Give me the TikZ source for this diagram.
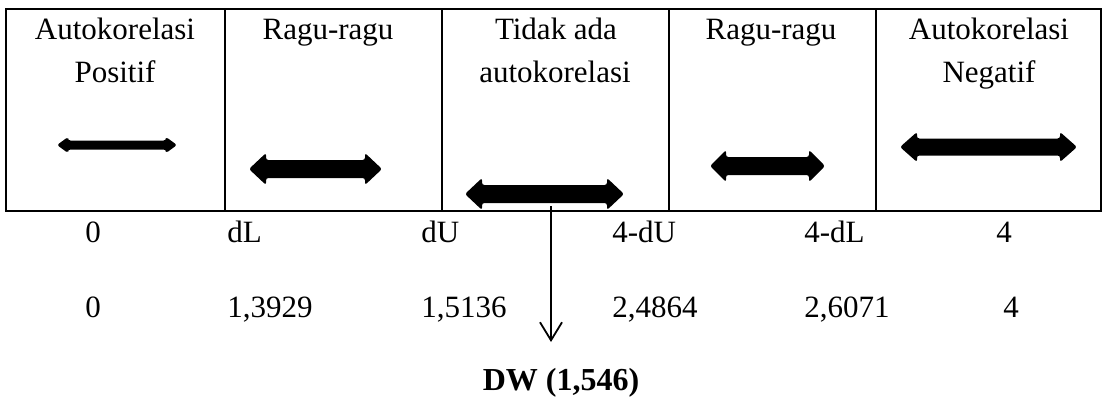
\documentclass[tikz,border=0pt]{standalone}
\usepackage{fontspec}
\setmainfont{Liberation Serif}
\usetikzlibrary{arrows.meta}

\tikzset{
  cell/.style={draw, line width=1.2pt},
  lbl/.style={anchor=base, inner sep=0pt, font=\fontsize{15.5}{18}\selectfont},
  val/.style={anchor=base west, inner sep=0pt, font=\fontsize{15.5}{18}\selectfont},
  dwlbl/.style={anchor=base, inner sep=0pt, font=\fontsize{16}{19}\selectfont\bfseries},
  fat/.style={fill=black, rounded corners=1.2pt},
  dwarrow/.style={line width=0.9pt, -{Straight Barb[length=9pt,width=11pt,line width=0.9pt]}},
}

% x1, x2, y, shaft half-thickness, head half-height, head length
\newcommand{\FatDbl}[6]{%
  \fill[fat] (#1,#3) -- (#1+#6,#3-#5) -- (#1+#6,#3-#4) -- (#2-#6,#3-#4) -- (#2-#6,#3-#5)
    -- (#2,#3) -- (#2-#6,#3+#5) -- (#2-#6,#3+#4) -- (#1+#6,#3+#4) -- (#1+#6,#3+#5) -- cycle;}

\begin{document}
\begin{tikzpicture}[x=0.5pt,y=-0.5pt]
\useasboundingbox (0,0) rectangle (1107,398);

% table frame
\draw[cell] (6,9) rectangle (1101,211);
\draw[cell] (225,9) -- (225,211);
\draw[cell] (442,9) -- (442,211);
\draw[cell] (669,9) -- (669,211);
\draw[cell] (876,9) -- (876,211);

% headers
\node[lbl] (h1a) at (115,39) {Autokorelasi};
\node[lbl] (h1b) at (115,82) {Positif};
\node[lbl] (h2) at (328,39) {Ragu-ragu};
\node[lbl] (h3a) at (556,39) {Tidak ada};
\node[lbl] (h3b) at (555,82) {autokorelasi};
\node[lbl] (h4) at (771,39) {Ragu-ragu};
\node[lbl] (h5a) at (989,39) {Autokorelasi};
\node[lbl] (h5b) at (989,82) {Negatif};

% fat double arrows
\FatDbl{57}{177}{145}{4.5}{8}{11}
\FatDbl{249}{382}{169}{9}{16}{17}
\FatDbl{465}{624}{194}{9}{16}{17}
\FatDbl{710}{825}{166}{9}{16}{16}
\FatDbl{900}{1077}{147}{8.5}{15}{17}

% scale labels
\node[val] (s0) at (85,242) {0};
\node[val] (sdl) at (227,242) {dL};
\node[val] (sdu) at (421,242) {dU};
\node[val] (s4du) at (612,242) {4-dU};
\node[val] (s4dl) at (804,242) {4-dL};
\node[val] (s4) at (996,242) {4};

\node[val] (v0) at (85,317) {0};
\node[val] (vdl) at (227,317) {1,3929};
\node[val] (vdu) at (421,317) {1,5136};
\node[val] (v4du) at (612,317) {2,4864};
\node[val] (v4dl) at (804,317) {2,6071};
\node[val] (v4) at (1003,317) {4};

% DW marker
\coordinate (a3) at (551,206);
\coordinate (tip) at (551,342);
\node[dwlbl] (dw) at (561,390) {DW (1,546)};
\draw[dwarrow] (a3) -- (tip);
\end{tikzpicture}
\end{document}
